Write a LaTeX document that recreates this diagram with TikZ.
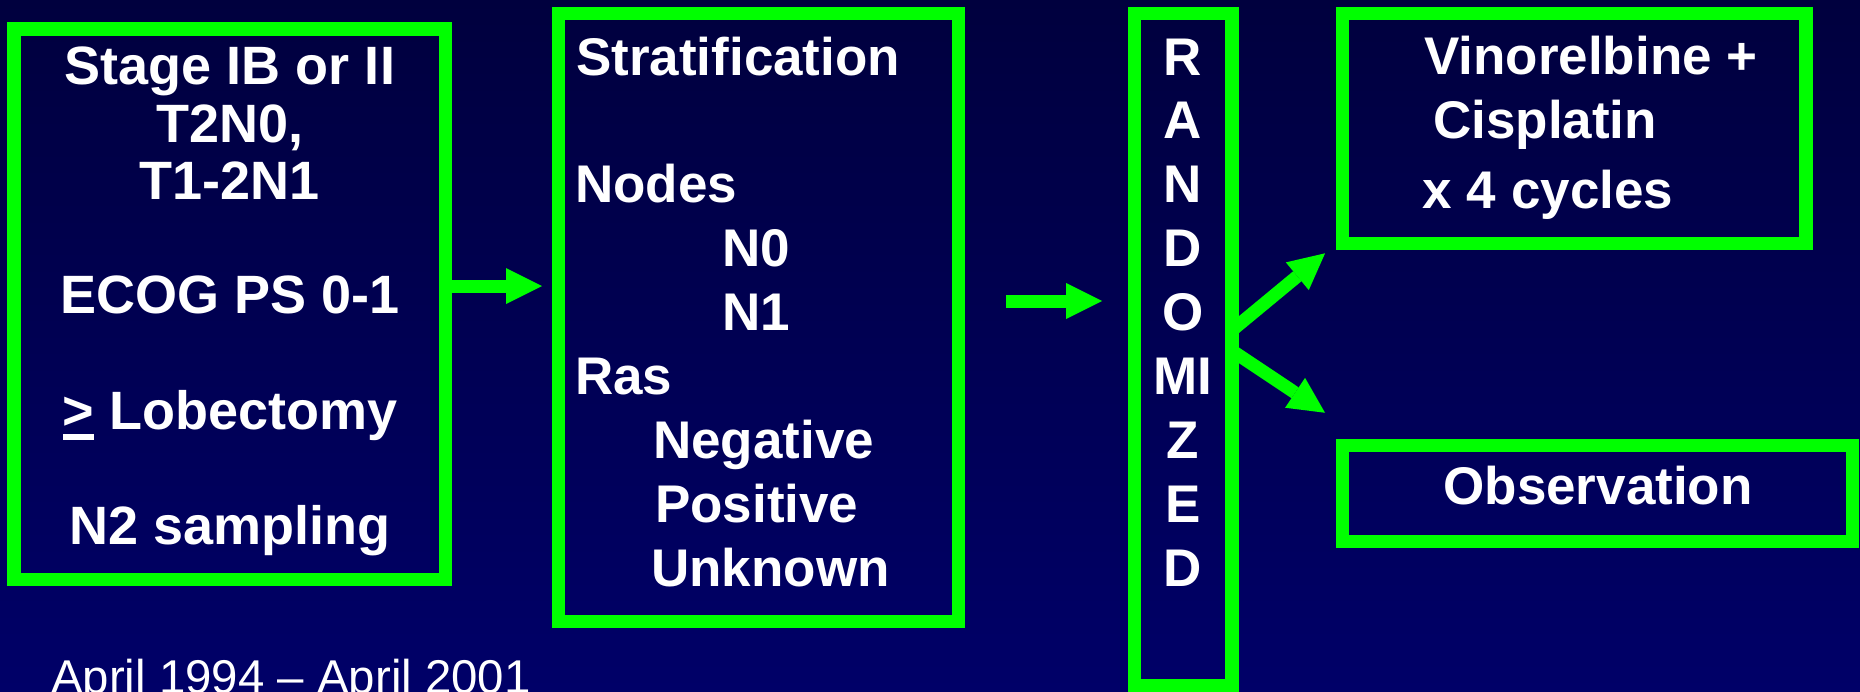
\documentclass[tikz,border=0pt]{standalone}
\usepackage{fontspec}
\setmainfont{Liberation Sans}
\usetikzlibrary{arrows.meta}

\definecolor{slidegreen}{RGB}{0,255,0}
\definecolor{navytop}{RGB}{0,0,62}
\definecolor{navybottom}{RGB}{0,0,104}

% "greater than or equal" written as an underlined > sign
\newcommand\ulgt{\setbox0\hbox{>}\rlap{\rule[-10.5pt]{\wd0}{6.5pt}}>}

\begin{document}
\begin{tikzpicture}[x=1pt, y=-1pt,
  box/.style={draw=slidegreen, line width=13.4pt, rectangle, inner sep=0pt},
  txt/.style={text=white, inner sep=0pt, font=\bfseries\fontsize{53}{64}\selectfont},
  bigtxt/.style={txt, font=\bfseries\fontsize{54}{58}\selectfont},
  datetxt/.style={text=white, inner sep=0pt, font=\fontsize{47.4}{56}\selectfont},
  arr/.style={draw=slidegreen, line width=13pt,
    -{Triangle[length=36pt, width=36pt, line width=0pt]}}]

  % slide background
  \useasboundingbox (0,0) rectangle (1860,691);
  \clip (0,0) rectangle (1860,691);
  \shade[top color=navytop, bottom color=navybottom] (0,0) rectangle (1860,691);

  % frames
  \node[box, minimum width=431.6pt, minimum height=550.3pt] (elig)  at (229.8,304.2) {};
  \node[box, minimum width=400.1pt, minimum height=608pt]   (strat) at (758.25,317.3) {};
  \node[box, minimum width=97.6pt,  minimum height=672pt]   (rand)  at (1183,349.3) {};
  \node[box, minimum width=463.3pt, minimum height=230pt]   (chemo) at (1574.2,128.3) {};
  \node[box, minimum width=509.8pt, minimum height=96.1pt]  (obs)   at (1597.4,493.3) {};

  % eligibility
  \node[bigtxt, anchor=base] (e1) at (230,84.6)  {Stage IB or II};
  \node[bigtxt, anchor=base] (e2) at (230,142)   {T2N0,};
  \node[bigtxt, anchor=base] (e3) at (230,199.2) {T1-2N1};
  \node[bigtxt, anchor=base] (e4) at (230,313.5) {ECOG PS 0-1};
  \node[bigtxt, anchor=base] (e5) at (230,429.7) {\ulgt{} Lobectomy};
  \node[bigtxt, anchor=base] (e6) at (230,544.3) {N2 sampling};

  % stratification factors
  \node[txt, anchor=base west] (s1) at (576,75)    {Stratification};
  \node[txt, anchor=base west] (s2) at (575,202.8) {Nodes};
  \node[txt, anchor=base west] (s3) at (722,266.7) {N0};
  \node[txt, anchor=base west] (s4) at (722,330.6) {N1};
  \node[txt, anchor=base west] (s5) at (575,394.5) {Ras};
  \node[txt, anchor=base west] (s6) at (653,458.4) {Negative};
  \node[txt, anchor=base west] (s7) at (655,522.3) {Positive};
  \node[txt, anchor=base west] (s8) at (651,586.2) {Unknown};

  % vertical label
  \foreach \l [count=\i from 0] in {R,A,N,D,O,MI,Z,E,D}
    \node[txt, anchor=base] (r\i) at (1183,{75+63.9*\i}) {\l};

  % treatment arms
  \node[txt, anchor=base west] (c1) at (1424,74)    {Vinorelbine +};
  \node[txt, anchor=base west] (c2) at (1433,138.3) {Cisplatin};
  \node[txt, anchor=base west] (c3) at (1422.5,208.3) {x 4 cycles};
  \node[txt, anchor=base] (o1) at (1598,504.6) {Observation};

  % accrual period
  \node[datetxt, anchor=base west] (dates) at (51,693) {April 1994 – April 2001};

  % connectors
  \draw[arr, shorten >=9.5pt] ([yshift=18.2pt]elig.east) -- ([yshift=18.2pt]elig.east -| strat.west);
  \draw[arr, shorten <=41pt, shorten >=25.5pt] ([yshift=16.3pt]strat.east) -- ([yshift=16.3pt]strat.east -| rand.west);
  \coordinate (uptip) at ([xshift=-10.8pt, yshift=-3.3pt]chemo.south west);
  \coordinate (lowtip) at ([xshift=-10.8pt, yshift=25.8pt]obs.north west);
  \draw[arr] ([xshift=-6.5pt, yshift=19pt]rand.east) -- (uptip);
  \draw[arr] ([xshift=-6.5pt, yshift=-1.4pt]rand.east) -- (lowtip);
\end{tikzpicture}
\end{document}
